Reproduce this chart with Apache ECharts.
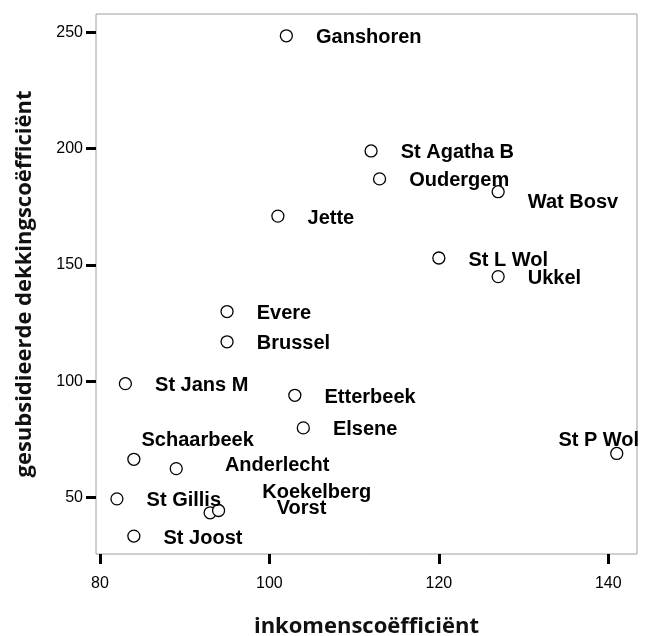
<!DOCTYPE html>
<html>
<head>
<meta charset="utf-8">
<script src="https://cdn.jsdelivr.net/npm/echarts@6/dist/echarts.min.js"></script>
<style>
  html, body { margin: 0; padding: 0; background: #fff; }
  #chart { width: 645px; height: 636px; }
</style>
</head>
<body>
<div id="chart"></div>
<script>
// gemeenten en hun coëfficiënten
const gemeenten = ['Ganshoren', 'St Agatha B', 'Oudergem', 'Wat Bosv', 'Jette', 'St L Wol', 'Ukkel',
    'Evere', 'Brussel', 'St Jans M', 'Etterbeek', 'Elsene', 'Schaarbeek', 'Anderlecht',
    'St Gillis', 'Vorst', 'Koekelberg', 'St Joost', 'St P Wol']
const inkomen = [102, 112, 113, 127, 101, 120, 127, 95, 95, 83, 103, 104, 84, 89, 82, 93, 94, 84, 141]
const dekking = [248.5, 199, 187, 181.5, 171, 153, 145, 130, 117, 99, 94, 80, 66.5, 62.5, 49.5, 43.5, 44.5, 33.5, 69]
const xTicks = [80, 100, 120, 140]
const yTicks = [50, 100, 150, 200, 250]

// labels die niet rechts van het punt staan (verschuiving in px)
const labelShift = {
    'Schaarbeek': [-22, -21],
    'Anderlecht': [19, -5],
    'Koekelberg': [14, -20],
    'Vorst': [37, -6],
    'St P Wol': [-88, -15],
    'Wat Bosv': [0, 9]
}

const points = gemeenten.map((naam, i) => ({ name: naam, value: [inkomen[i], dekking[i]] }))

const tickLabel = { fontFamily: 'Liberation Sans', fontSize: 16, color: '#000' }
const axisName = { fontFamily: 'Open Sans', fontWeight: 'bold', fontSize: 22, color: '#111' }

const chart = echarts.init(document.getElementById('chart'))
chart.setOption({
    animation: false,
    grid: {
        left: 96, top: 14, width: 541, height: 540,
        outerBoundsMode: 'none',
        show: true, borderColor: '#a0a0a0', borderWidth: 1, backgroundColor: '#fff'
    },
    xAxis: {
        type: 'value',
        min: 79.53, max: 143.39,
        name: 'inkomenscoëfficiënt',
        nameLocation: 'middle',
        nameGap: 62,
        nameTextStyle: axisName,
        axisLine: { show: false },
        splitLine: { show: false },
        axisTick: { show: true, length: 10, customValues: xTicks, lineStyle: { color: '#000', width: 3 } },
        axisLabel: Object.assign({ margin: 22, customValues: xTicks }, tickLabel)
    },
    yAxis: {
        type: 'value',
        min: 25.8, max: 257.86,
        name: 'gesubsidieerde dekkingscoëfficiënt',
        nameLocation: 'middle',
        nameGap: 60,
        nameTextStyle: axisName,
        axisLine: { show: false },
        splitLine: { show: false },
        axisTick: { show: true, length: 10, customValues: yTicks, lineStyle: { color: '#000', width: 3 } },
        axisLabel: Object.assign({ margin: 13, customValues: yTicks }, tickLabel)
    },
    series: [{
        type: 'scatter',
        symbol: 'circle',
        symbolSize: 12,
        clip: false,
        itemStyle: { color: '#fff', borderColor: '#000', borderWidth: 1.3, opacity: 1 },
        label: {
            show: true,
            position: 'right',
            distance: 23,
            formatter: '{b}',
            fontFamily: 'Liberation Sans',
            fontWeight: 'bold',
            fontSize: 20,
            color: '#000'
        },
        labelLayout: function (params) {
            const s = labelShift[gemeenten[params.dataIndex]] || [0, 0]
            return { dx: s[0], dy: s[1] + 2, hideOverlap: false }
        },
        emphasis: { disabled: true },
        data: points
    }]
})
</script>
</body>
</html>
